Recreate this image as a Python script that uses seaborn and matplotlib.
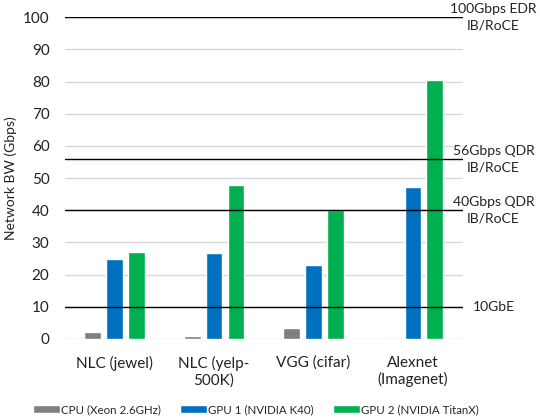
import pandas as pd
import seaborn as sns
import matplotlib.pyplot as plt
import matplotlib.transforms as mtransforms

# Data
workloads = ['NLC (jewel)', 'NLC (yelp-\n500K)', 'VGG (cifar)', 'Alexnet\n(Imagenet)']
devices = ['CPU (Xeon 2.6GHz)', 'GPU 1 (NVIDIA K40)', 'GPU 2 (NVIDIA TitanX)']
cpu_bw = [2.1, 0.8, 3.3, 0.0]
gpu1_bw = [25.0, 26.6, 22.9, 47.2]
gpu2_bw = [27.0, 48.0, 40.0, 80.6]
link_speeds = [100, 56, 40, 10]
link_labels = ['100Gbps EDR\nIB/RoCE', '56Gbps QDR\nIB/RoCE', '40Gbps QDR\nIB/RoCE', '10GbE']
colors = ['#7f7f7f', '#0070c0', '#00b050']

df = pd.DataFrame({
    'workload': workloads * 3,
    'device': [d for d in devices for _ in workloads],
    'bw': cpu_bw + gpu1_bw + gpu2_bw,
})

sns.set_theme(style='white')
plt.rcParams['font.family'] = ['Lato', 'DejaVu Sans']

fig = plt.figure(figsize=(5.4, 4.18), dpi=100)
ax = fig.add_axes([0.12, 0.189, 0.737, 0.77])

sns.barplot(data=df, x='workload', y='bw', hue='device', palette=colors,
            width=0.66, gap=0.23, saturation=1, ax=ax)

ax.set_ylim(0, 100)
ax.set_xlim(-0.5, 3.5)
ax.set_yticks(range(0, 101, 10))
ax.yaxis.grid(True, color='#d9d9d9', linewidth=1)
ax.set_axisbelow(True)
for s in ax.spines.values():
    s.set_visible(False)
ax.tick_params(axis='both', length=0, labelsize=11, colors='#222222')
ax.tick_params(axis='y', pad=11)
ax.tick_params(axis='x', pad=12)
ax.set_xlabel('')
ax.set_ylabel('Network BW (Gbps)', fontsize=10, color='#222222')

# Network link reference lines
trans = mtransforms.blended_transform_factory(ax.transAxes, ax.transData)
for val, lab in zip(link_speeds, link_labels):
    ax.axhline(val, color='black', linewidth=1, zorder=3)
    ax.text(1.077, val, lab, transform=trans, ha='center', va='center',
            fontsize=10, color='#222222', clip_on=False, linespacing=1.45)

ax.legend(loc='upper center', bbox_to_anchor=(0.48, -0.17), ncol=3, frameon=False,
          fontsize=8.3, handlelength=2.4, handleheight=0.8, handletextpad=0.1,
          columnspacing=1.6)

fig.savefig('out.png', dpi=100)
